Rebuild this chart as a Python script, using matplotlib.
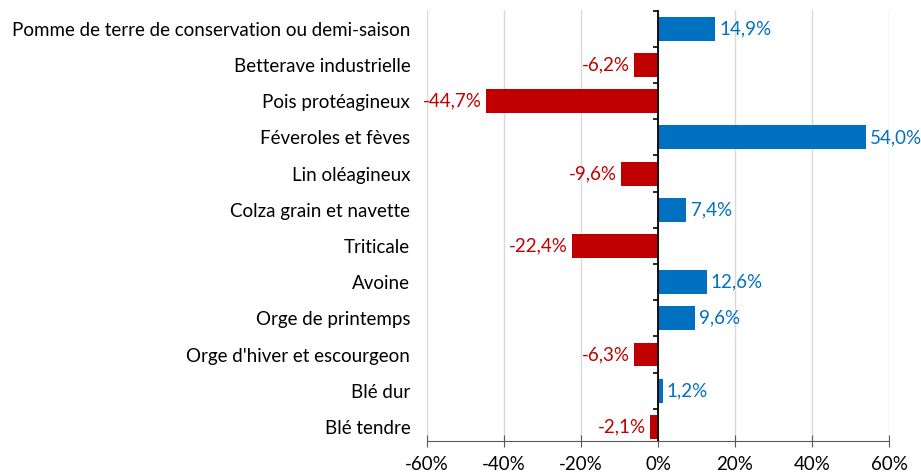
import matplotlib.pyplot as plt
import numpy as np

categories = ["Blé tendre", "Blé dur", "Orge d'hiver et escourgeon", "Orge de printemps",
              "Avoine", "Triticale", "Colza grain et navette", "Lin oléagineux",
              "Féveroles et fèves", "Pois protéagineux", "Betterave industrielle",
              "Pomme de terre de conservation ou demi-saison"]
values = [-2.1, 1.2, -6.3, 9.6, 12.6, -22.4, 7.4, -9.6, 54.0, -44.7, -6.2, 14.9]
xticks = [-60, -40, -20, 0, 20, 40, 60]

blue = '#0070C0'
red = '#C00000'
fs = 13.5

plt.rcParams['font.family'] = ['Lato', 'DejaVu Sans']

fig = plt.figure(figsize=(9.21, 4.74), dpi=100)
ax = fig.add_axes([427/921, 1 - 441/474, (889 - 427)/921, (441 - 10)/474])

y = np.arange(len(categories))
colors = [blue if v >= 0 else red for v in values]
ax.barh(y, values, height=0.66, color=colors, zorder=3)

for yi, v, c in zip(y, values, colors):
    label = "{:.1f}%".format(v).replace('.', ',')
    ax.annotate(label, xy=(v, yi), xytext=(3 if v >= 0 else -3, 0),
                textcoords='offset points', ha='left' if v >= 0 else 'right',
                va='center', color=c, fontsize=fs)

ax.set_xlim(-60, 60)
ax.set_ylim(-0.39, 11.52)
ax.set_xticks(xticks)
ax.set_xticklabels(["{}%".format(t) for t in xticks], fontsize=fs)
ax.set_yticks(y)
ax.set_yticklabels(categories, fontsize=fs)
ax.tick_params(axis='y', length=0, pad=12)
ax.tick_params(axis='x', direction='inout', length=9, color='#595959', pad=6)
ax.grid(axis='x', color='#d9d9d9', linewidth=1, zorder=0)

for s in ['top', 'right', 'left']:
    ax.spines[s].set_visible(False)
ax.spines['bottom'].set_color('#595959')

# vertical zero axis with small ticks between categories (pointing left)
ax.axvline(0, color='black', linewidth=1.3, zorder=5)
ax.hlines(np.arange(1, len(categories) + 1) - 0.5, -1.4, 0, color='black',
          linewidth=1.2, zorder=5)

fig.savefig('out.png', dpi=100)
